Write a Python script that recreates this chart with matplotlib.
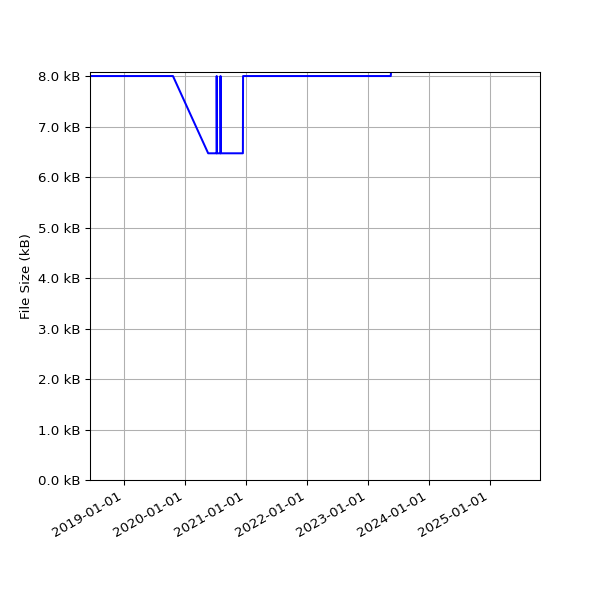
import matplotlib
matplotlib.use("Agg")
import matplotlib.pyplot as plt
import matplotlib.dates as mdates
from matplotlib.ticker import FuncFormatter
import pandas as pd

dates = ["2018-06-10", "2019-10-20", "2020-05-18",
         "2020-07-08", "2020-07-08", "2020-07-09",
         "2020-07-31", "2020-07-31", "2020-08-01",
         "2020-12-12", "2020-12-13", "2023-05-17", "2023-05-18"]
sizes_kb = [8.0, 8.0, 6.47,
            6.47, 8.0, 6.47,
            6.47, 8.0, 6.47,
            6.47, 8.0, 8.0, 8.06]

x = pd.to_datetime(dates)

fig = plt.figure(figsize=(6.25, 6.25), dpi=96)
ax = fig.add_axes([0.15, 0.2, 0.75, 0.68])
ax.plot(x, sizes_kb, color="blue", linewidth=1.5)
ax.set_ylim(0, 8.08)
ax.set_xlim(pd.Timestamp("2018-06-10"), pd.Timestamp("2025-10-27"))
ax.xaxis.set_major_locator(mdates.YearLocator())
ax.xaxis.set_major_formatter(mdates.DateFormatter("%Y-%m-%d"))
ax.yaxis.set_major_formatter(FuncFormatter(lambda v, p: f"{v:.1f} kB"))
ax.set_ylabel("File Size (kB)")
ax.grid(True)
for lbl in ax.get_xticklabels():
    lbl.set_rotation(30)
    lbl.set_ha("right")
fig.savefig("out.png", dpi=96)
